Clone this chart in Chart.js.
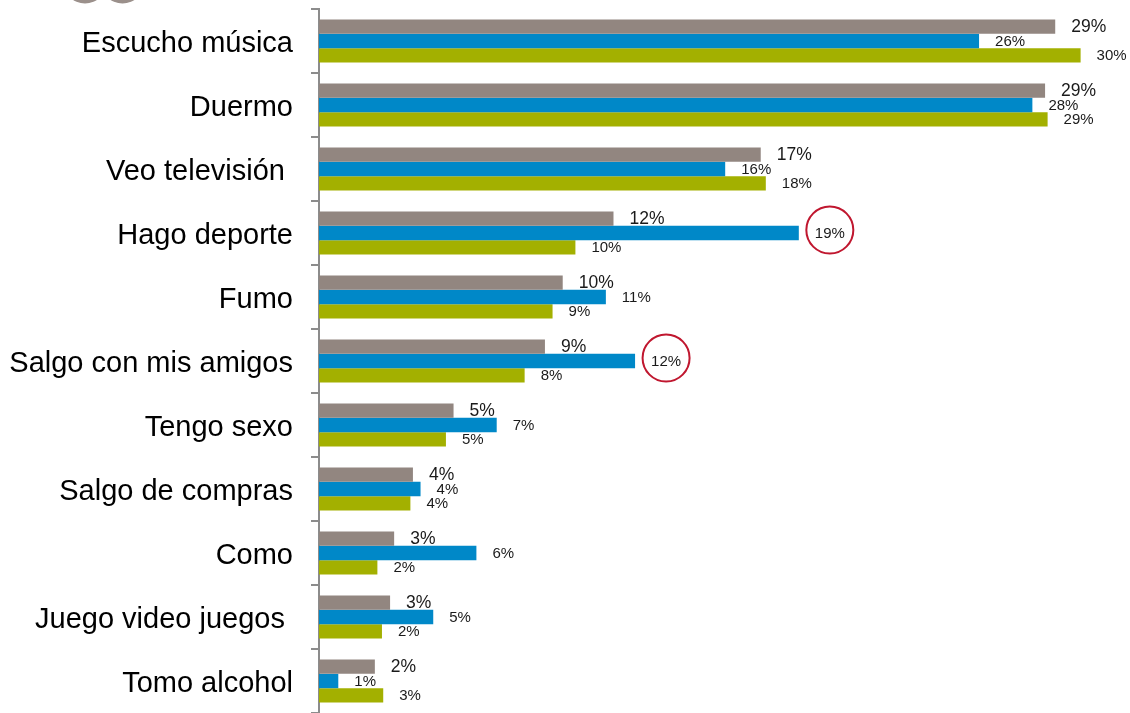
<!DOCTYPE html>
<html>
<head>
<meta charset="utf-8">
<script src="https://cdn.jsdelivr.net/npm/chart.js@4.4.1/dist/chart.umd.min.js"></script>
<style>
  html, body { margin: 0; padding: 0; background: #fff; }
  #wrap { position: relative; width: 1130px; height: 713px; }
</style>
</head>
<body>
<div id="wrap"><canvas id="chart"></canvas></div>
<script>
'use strict';

// ─── 데이터 ───────────────────────────────────────────────
const categories = [
  'Escucho música', 'Duermo', 'Veo televisión ', 'Hago deporte', 'Fumo',
  'Salgo con mis amigos', 'Tengo sexo', 'Salgo de compras', 'Como',
  'Juego video juegos ', 'Tomo alcohol'
];
const serieGris  = [29.0, 28.6, 17.4, 11.6, 9.6, 8.9, 5.3, 3.7, 2.96, 2.8, 2.2];
const serieAzul  = [26.0, 28.1, 16.0, 18.9, 11.3, 12.45, 7.0, 4.0, 6.2, 4.5, 0.76];
const serieVerde = [30.0, 28.7, 17.6, 10.1, 9.2, 8.1, 5.0, 3.6, 2.3, 2.48, 2.53];

// 빨간 원으로 강조된 값 [dataset, index]
const circled = [[1, 3], [1, 5]];

const COLORS = ['#928680', '#0088C8', '#A3B000'];
const FONT = 'Arial, "Liberation Sans", sans-serif';

// ─── 값 라벨 + 강조 원 ─────────────────────────────────────
const valueLabels = {
  id: 'valueLabels',
  afterDatasetsDraw(chart) {
    const ctx = chart.ctx;
    ctx.save();
    chart.data.datasets.forEach((ds, di) => {
      const meta = chart.getDatasetMeta(di);
      const size = di === 0 ? 17.5 : 15;
      ctx.font = size + 'px ' + FONT;
      ctx.fillStyle = '#1a1a1a';
      ctx.textAlign = 'left';
      ctx.textBaseline = 'middle';
      meta.data.forEach((bar, i) => {
        const txt = Math.round(ds.data[i]) + '%';
        const x = bar.x + 16;
        const y = bar.y + 1;
        ctx.fillText(txt, x, y);
        if (circled.some(c => c[0] === di && c[1] === i)) {
          const w = ctx.measureText(txt).width;
          ctx.beginPath();
          ctx.arc(x + w / 2, bar.y - 3, 23.5, 0, Math.PI * 2);
          ctx.strokeStyle = '#C0172F';
          ctx.lineWidth = 2;
          ctx.stroke();
        }
      });
    });
    ctx.restore();
  }
};

// 좌상단 잘린 회색 원 장식
const cornerDots = {
  id: 'cornerDots',
  beforeDraw(chart) {
    const ctx = chart.ctx;
    ctx.save();
    ctx.fillStyle = '#9b908b';
    [85, 122.5].forEach(cx => {
      ctx.beginPath();
      ctx.arc(cx, -18.5, 22, 0, Math.PI * 2);
      ctx.fill();
    });
    ctx.restore();
  }
};

new Chart(document.getElementById('chart'), {
  type: 'bar',
  data: {
    labels: categories,
    datasets: [serieGris, serieAzul, serieVerde].map((d, i) => ({
      data: d,
      backgroundColor: COLORS[i],
      borderWidth: 0,
      categoryPercentage: 0.672,
      barPercentage: 1.0
    }))
  },
  options: {
    indexAxis: 'y',
    responsive: true,
    maintainAspectRatio: false,
    animation: false,
    layout: { padding: { top: 9, right: 24, bottom: 0, left: 0 } },
    plugins: {
      legend: { display: false },
      tooltip: { enabled: false }
    },
    scales: {
      x: { display: false, min: 0, max: 31 },
      y: {
        afterFit: s => { s.width = 319; s.paddingTop = 0; s.paddingBottom = 0; },
        grid: {
          display: true,
          drawOnChartArea: false,
          drawTicks: true,
          tickLength: 8,
          color: '#8c8c8c',
          lineWidth: 2,
          offset: true
        },
        border: { display: true, color: '#8c8c8c', width: 2 },
        ticks: {
          padding: 18,
          labelOffset: 3,
          color: '#000',
          font: { family: FONT, size: 29 }
        }
      }
    }
  },
  plugins: [cornerDots, valueLabels]
});
</script>
</body>
</html>
